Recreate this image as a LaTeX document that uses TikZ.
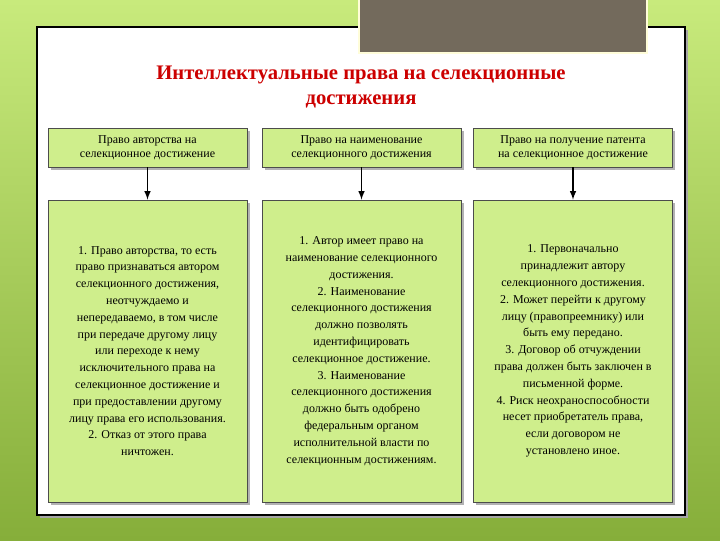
\documentclass[tikz,border=0pt]{standalone}
\usepackage{fontspec}
\setmainfont{Liberation Serif}
\begin{document}
\begin{tikzpicture}[x=0.75pt,y=-0.75pt,
  hbox/.style={draw=black!70,fill=boxgreen,line width=0.6pt,minimum width=199*0.75pt,align=center,font=\fontsize{9}{10.5}\selectfont,inner sep=0pt},
  bbox/.style={draw=black!70,fill=boxgreen,line width=0.6pt,minimum width=199*0.75pt,minimum height=302*0.75pt,align=center,font=\fontsize{9}{12.6}\selectfont,inner sep=0pt},
  arr/.style={-latex,line width=1.2pt}]
\definecolor{boxgreen}{HTML}{CFEE8C}
\definecolor{bgtop}{HTML}{C8EA7C}
\definecolor{bgbot}{HTML}{86AE3A}
\definecolor{tabgray}{HTML}{736A5C}
\definecolor{titlered}{HTML}{CC0000}
\shade[top color=bgtop,bottom color=bgbot] (0,0) rectangle (720,540);
\useasboundingbox (0,0) rectangle (720,540);
\fill[black!35] (40,30) rectangle (688,518);
\draw[fill=white,line width=0.8pt] (37,27) rectangle (685,515);
\draw[fill=tabgray,draw=white!85!yellow,line width=2pt] (359,-2) rectangle (647,53);
\node[font=\fontsize{15.5}{19}\selectfont\bfseries,text=titlered,align=center] (title) at (361,87) {Интеллектуальные права на селекционные\\достижения};
\foreach \n/\x in {a/147.5,b/361.5,c/573}{
  \fill[black!30] (\x-97,131) rectangle (\x+102,170);
  \fill[black!30] (\x-97,203) rectangle (\x+102,505);
}
\node[hbox,minimum height=39*0.75pt] (t1) at (147.5,147.5) {Право авторства на\\селекционное достижение};
\node[hbox,minimum height=39*0.75pt] (t2) at (361.5,147.5) {Право на наименование\\селекционного достижения};
\node[hbox,minimum height=39*0.75pt] (t3) at (573,147.5) {Право на получение патента\\на селекционное достижение};
\node[bbox] (b1) at (147.5,351) {1. Право авторства, то есть\\право признаваться автором\\селекционного достижения,\\неотчуждаемо и\\непередаваемо, в том числе\\при передаче другому лицу\\или переходе к нему\\исключительного права на\\селекционное достижение и\\при предоставлении другому\\лицу права его использования.\\2. Отказ от этого права\\ничтожен.};
\node[bbox] (b2) at (361.5,351) {1. Автор имеет право на\\наименование селекционного\\достижения.\\2. Наименование\\селекционного достижения\\должно позволять\\идентифицировать\\селекционное достижение.\\3. Наименование\\селекционного достижения\\должно быть одобрено\\федеральным органом\\исполнительной власти по\\селекционным достижениям.};
\node[bbox] (b3) at (573,351) {1. Первоначально\\принадлежит автору\\селекционного достижения.\\2. Может перейти к другому\\лицу (правопреемнику) или\\быть ему передано.\\3. Договор об отчуждении\\права должен быть заключен в\\письменной форме.\\4. Риск неохраноспособности\\несет приобретатель права,\\если договором не\\установлено иное.};
\draw[arr] (t1) -- (b1);
\draw[arr] (t2) -- (b2);
\draw[arr] (t3) -- (b3);
\end{tikzpicture}
\end{document}
